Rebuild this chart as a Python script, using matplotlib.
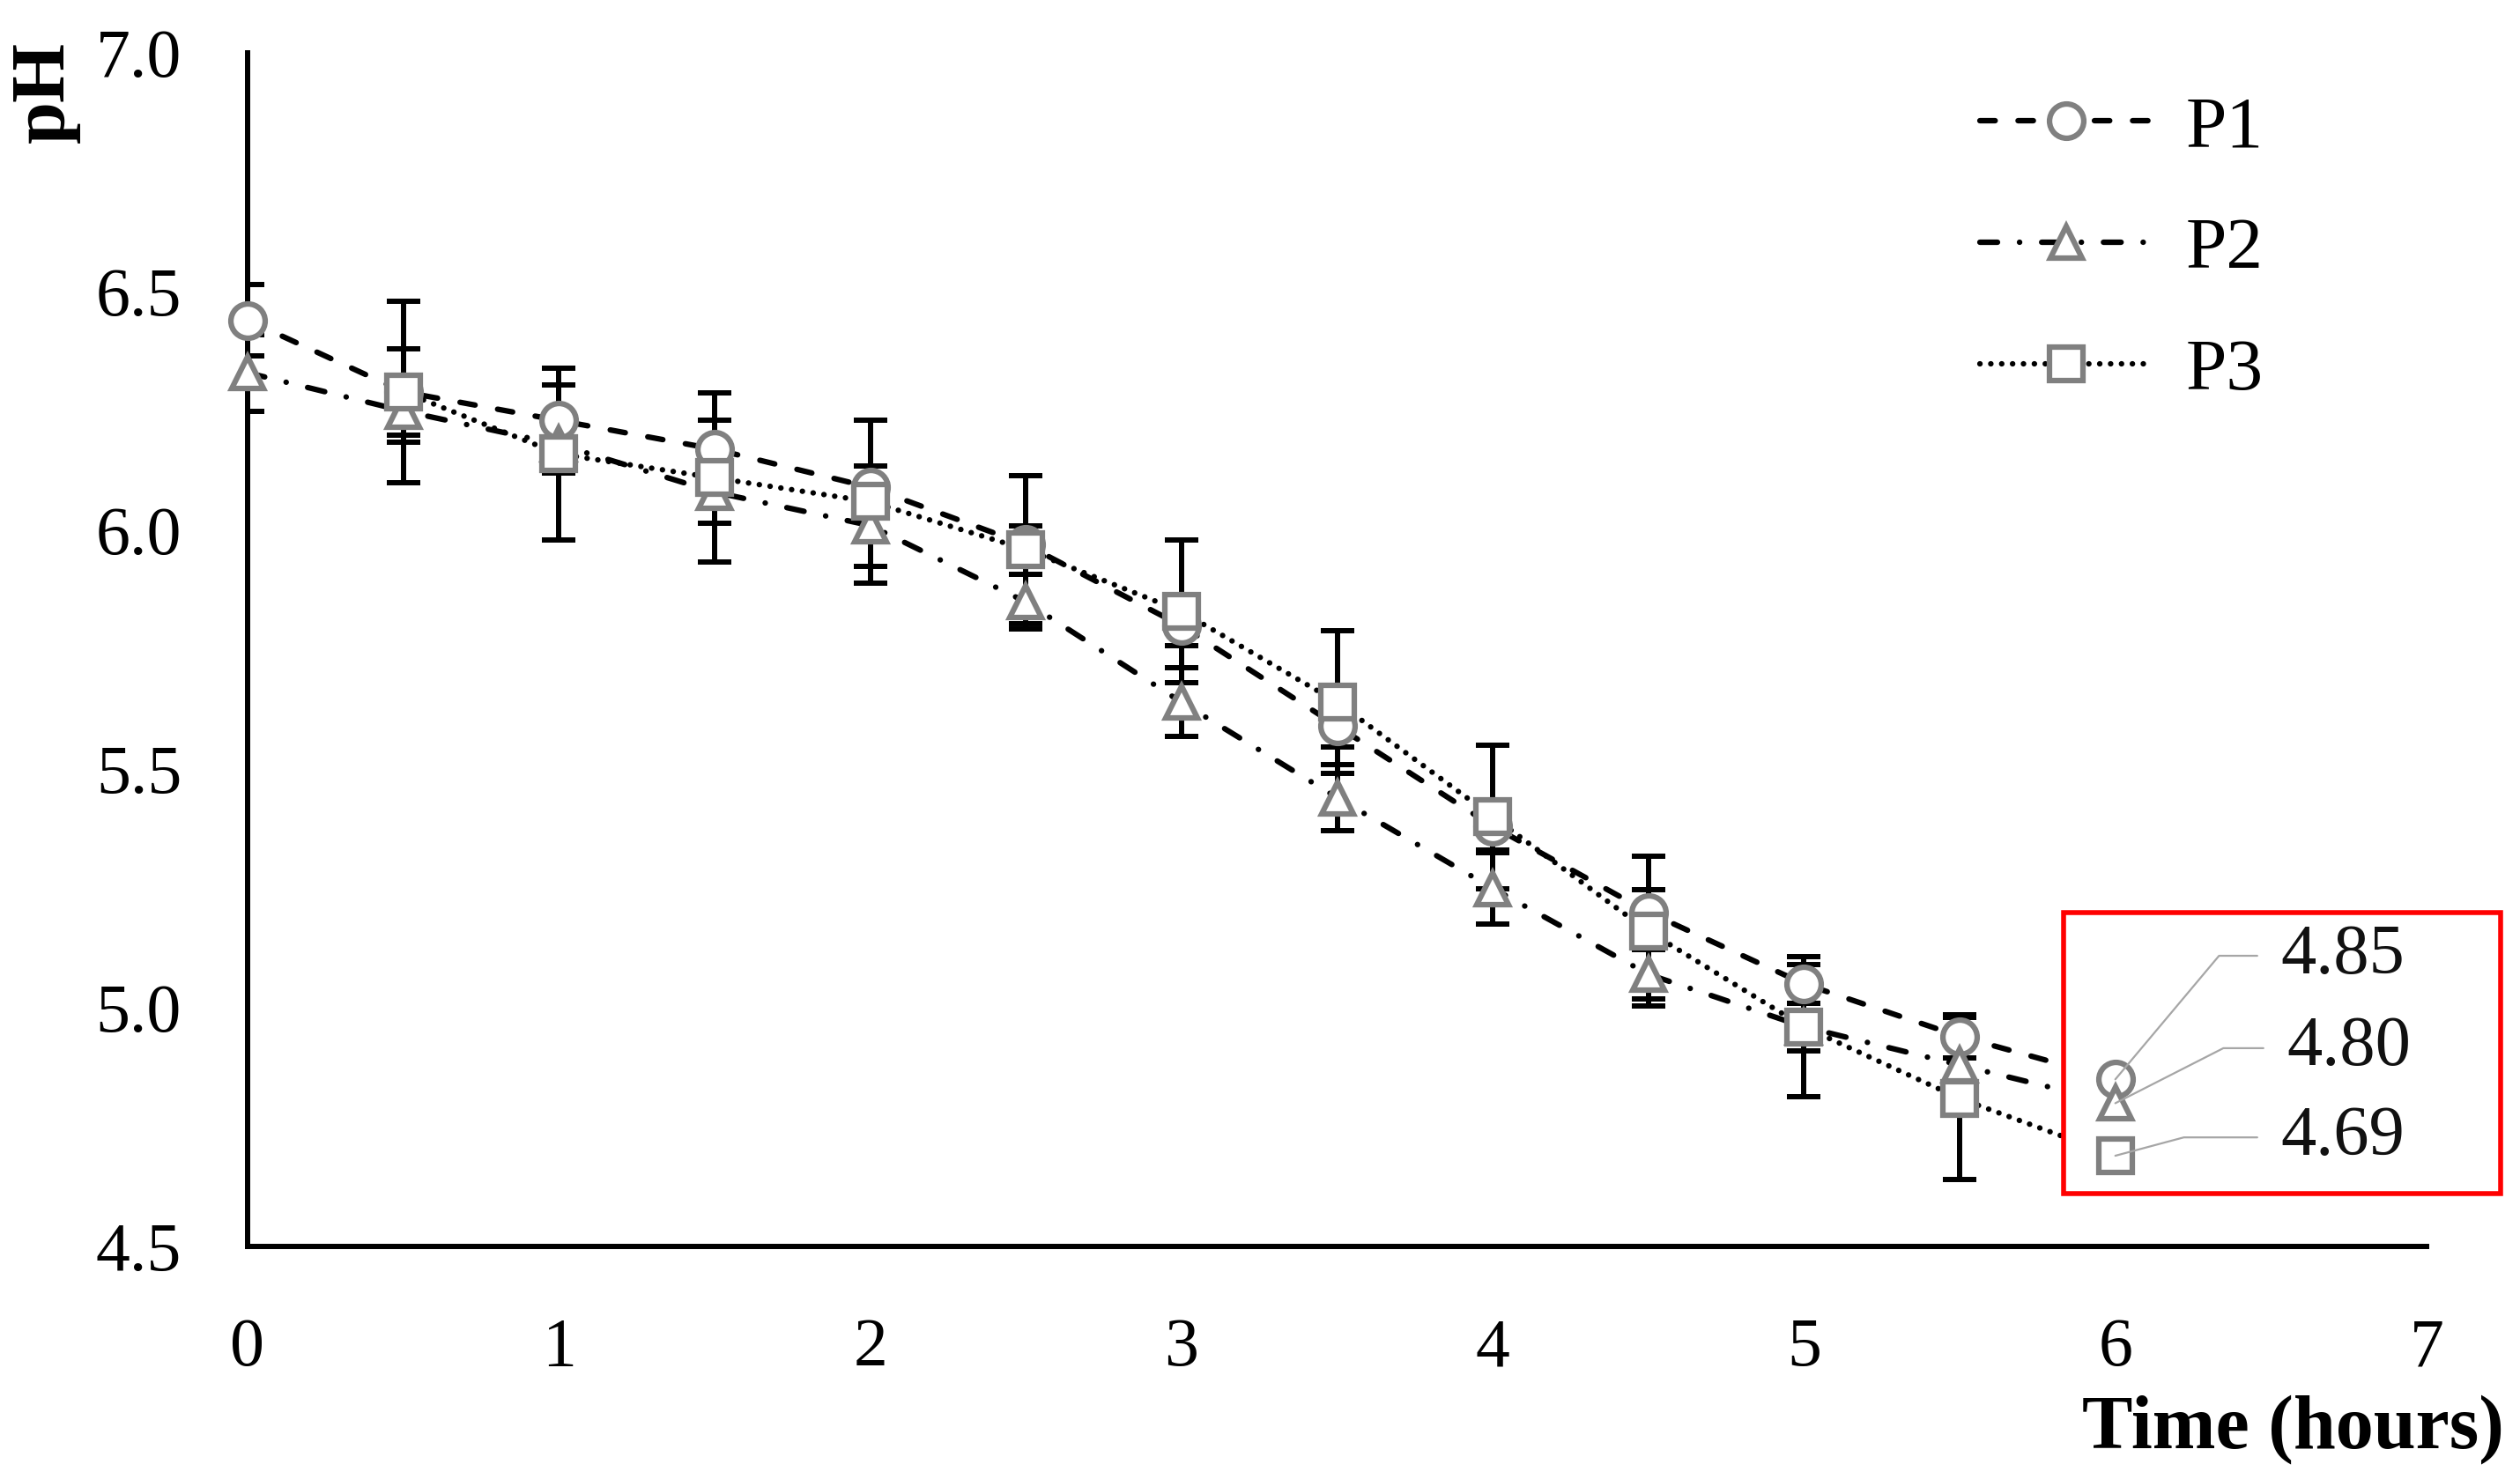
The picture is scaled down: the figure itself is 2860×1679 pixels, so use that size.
import numpy as np
import matplotlib
matplotlib.use("Agg")
import matplotlib.pyplot as plt
from matplotlib.lines import Line2D
from matplotlib.patches import Rectangle

# ---------------- data ----------------
time_h = [0, 0.5, 1, 1.5, 2, 2.5, 3, 3.5, 4, 4.5, 5, 5.5, 6]
p1 = [6.44, 6.29, 6.23, 6.17, 6.09, 5.97, 5.80, 5.59, 5.38, 5.20, 5.05, 4.94, 4.85]
p2 = [6.33, 6.25, 6.18, 6.08, 6.01, 5.85, 5.64, 5.44, 5.25, 5.07, 4.96, 4.88, 4.80]
p3 = [np.nan, 6.29, 6.16, 6.11, 6.06, 5.96, 5.83, 5.64, 5.40, 5.16, 4.96, 4.81, 4.69]
p1_err = [0.075, 0.09, 0.075, 0.06, 0.045, 0.04, 0.042, 0.044, 0.05, 0.047, 0.04, 0.045, 0.0]
p2_err = [0.08, 0.065, 0.06, 0.065, 0.085, 0.057, 0.072, 0.07, 0.075, 0.052, 0.05, 0.05, 0.0]
p3_err = [np.nan, 0.19, 0.18, 0.177, 0.17, 0.155, 0.15, 0.15, 0.15, 0.157, 0.147, 0.17, 0.0]
series_names = ["P1", "P2", "P3"]
x_ticks = [0, 1, 2, 3, 4, 5, 6, 7]
y_ticks = [4.5, 5.0, 5.5, 6.0, 6.5, 7.0]
final_labels = ["4.85", "4.80", "4.69"]

# ---------------- style ----------------
plt.rcParams["font.family"] = ["Liberation Serif", "DejaVu Serif"]
plt.rcParams["lines.scale_dashes"] = False

W, H = 2860, 1679
fig = plt.figure(figsize=(W / 100, H / 100), dpi=100)
ax_l, ax_r, ax_t, ax_b = 281, 2754, 60, 1415
ax = fig.add_axes([ax_l / W, 1 - ax_b / H, (ax_r - ax_l) / W, (ax_b - ax_t) / H])

LW = 4.5
GREY = "#808080"
styles = [
    dict(ls=(0, (12.5, 18.7)), marker="o", ms=28),
    dict(ls=(0, (14.4, 18, 0.1, 18)), marker="^", ms=26),
    dict(ls=(0, (0.1, 8.8)), marker="s", ms=28),
]
ys = [p1, p2, p3]
errs = [p1_err, p2_err, p3_err]

t = np.array(time_h, dtype=float)
for y, e, st in zip(ys, errs, styles):
    y = np.array(y, dtype=float)
    ax.errorbar(t, y, yerr=np.array(e, dtype=float), fmt="none", ecolor="black",
                elinewidth=4.3, capsize=14, capthick=4.3, zorder=2)
    ax.plot(t, y, color="black", lw=LW, linestyle=st["ls"], dash_capstyle="round",
            solid_capstyle="round", zorder=2.5)
    ax.plot(t, y, linestyle="none", marker=st["marker"], ms=st["ms"], mfc="white",
            mec=GREY, mew=4.5, zorder=5, clip_on=False)

ax.set_xlim(0, 7)
ax.set_ylim(4.5, 7.0)
ax.set_xticks(x_ticks)
ax.set_xticklabels([str(v) for v in x_ticks])
ax.set_yticks(y_ticks)
ax.set_yticklabels([f"{v:.1f}" for v in y_ticks])
ax.tick_params(axis="both", length=0, labelsize=56, colors="black")
ax.tick_params(axis="x", pad=58)
ax.tick_params(axis="y", pad=54)
for s in ["top", "right"]:
    ax.spines[s].set_visible(False)
for s in ["left", "bottom"]:
    ax.spines[s].set_linewidth(4.3)
    ax.spines[s].set_color("black")

# axis labels
ax.set_xlabel("Time (hours)", fontsize=62, fontweight="bold", ha="right", va="baseline")
ax.xaxis.set_label_coords((2842 - ax_l) / (ax_r - ax_l), -(1643 - ax_b) / (ax_b - ax_t))
ax.set_ylabel("pH", fontsize=62, fontweight="bold", rotation=90, rotation_mode="anchor",
              ha="center", va="baseline")
ax.yaxis.set_label_coords((72 - ax_l) / (ax_r - ax_l), (ax_b - 105) / (ax_b - ax_t))

# legend
handles = [Line2D([], [], color="black", lw=LW, linestyle=st["ls"], dash_capstyle="round",
                  marker=st["marker"], ms=st["ms"], mfc="white", mec=GREY, mew=4.5)
           for st in styles]
leg = ax.legend(handles, series_names, loc="center left",
                bbox_to_anchor=(2247 / W, 1 - 284 / H), bbox_transform=fig.transFigure,
                frameon=False, fontsize=60, handlelength=2.35, handletextpad=0.45,
                labelspacing=0.74, borderpad=0, borderaxespad=0)

# red highlight box for final values
box = Rectangle((2342 / W, 1 - 1355 / H), (2838 - 2342) / W, (1355 - 1036) / H,
                transform=fig.transFigure, facecolor="white", edgecolor="#ff0000",
                lw=4.0, zorder=3, clip_on=False)
ax.add_patch(box)

final_vals = [p1[-1], p2[-1], p3[-1]]
offsets = [(135, 101), (140, 45), (135, 15)]
angles = [50, 27, 15]
for lab, v, off, ang in zip(final_labels, final_vals, offsets, angles):
    ax.annotate(lab, xy=(time_h[-1], v), xytext=off, textcoords="offset points",
                ha="left", va="center", fontsize=58, color="#111111", zorder=6,
                annotation_clip=False,
                arrowprops=dict(arrowstyle="-", color="#a6a6a6", lw=1.6,
                                relpos=(0, 0.5), shrinkA=17, shrinkB=0,
                                connectionstyle=f"angle,angleA=0,angleB={ang},rad=0"))

fig.savefig("out.png", dpi=100)
